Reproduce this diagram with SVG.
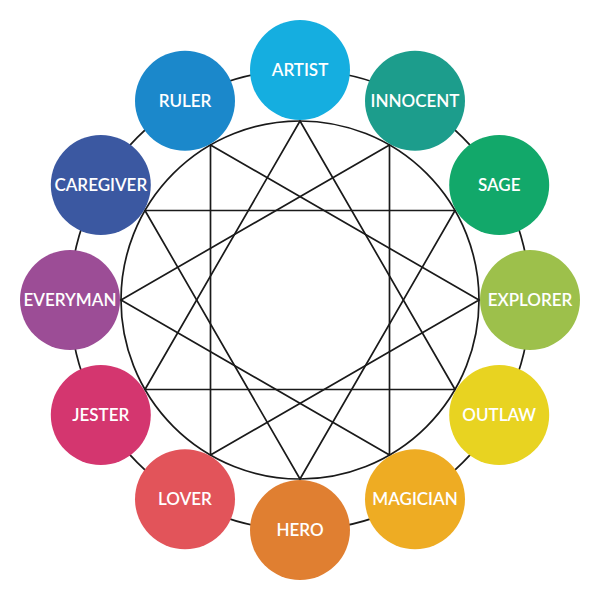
<svg xmlns="http://www.w3.org/2000/svg" width="600" height="600" viewBox="0 0 600 600">
<style>
.ln{fill:none;stroke:#1a1a1a;stroke-width:1.7;stroke-linejoin:miter}
.lbl{fill:#fff;font-family:Lato,"Open Sans","Liberation Sans",sans-serif;font-weight:600;font-size:17px;text-anchor:middle}
</style>
<rect width="600" height="600" fill="#fff"/>
<g id="connectors">
<circle class="ln" cx="300" cy="300" r="230"/>
<circle class="ln" cx="300" cy="300" r="179"/>
<polygon class="ln" points="300,121 455.02,389.5 144.98,389.5"/>
<polygon class="ln" points="389.5,144.98 389.5,455.02 121,300"/>
<polygon class="ln" points="455.02,210.5 300,479 144.98,210.5"/>
<polygon class="ln" points="479,300 210.5,455.02 210.5,144.98"/>
</g>
<g id="artist"><circle cx="300" cy="70" r="50" fill="#15aee0"/><text class="lbl" x="300" y="76">ARTIST</text></g>
<g id="innocent"><circle cx="415" cy="100.8" r="50" fill="#1c9d8c"/><text class="lbl" x="415" y="106.8">INNOCENT</text></g>
<g id="sage"><circle cx="499.2" cy="185" r="50" fill="#12a86a"/><text class="lbl" x="499.2" y="191">SAGE</text></g>
<g id="explorer"><circle cx="530" cy="300" r="50" fill="#9dc04b"/><text class="lbl" x="530" y="306">EXPLORER</text></g>
<g id="outlaw"><circle cx="499.2" cy="415" r="50" fill="#e8d321"/><text class="lbl" x="499.2" y="421">OUTLAW</text></g>
<g id="magician"><circle cx="415" cy="499.2" r="50" fill="#eeac23"/><text class="lbl" x="415" y="505.2">MAGICIAN</text></g>
<g id="hero"><circle cx="300" cy="530" r="50" fill="#e07f31"/><text class="lbl" x="300" y="536">HERO</text></g>
<g id="lover"><circle cx="185" cy="499.2" r="50" fill="#e2545a"/><text class="lbl" x="185" y="505.2">LOVER</text></g>
<g id="jester"><circle cx="100.8" cy="415" r="50" fill="#d4366f"/><text class="lbl" x="100.8" y="421">JESTER</text></g>
<g id="everyman"><circle cx="70" cy="300" r="50" fill="#9c4d96"/><text class="lbl" x="70" y="306">EVERYMAN</text></g>
<g id="caregiver"><circle cx="100.8" cy="185" r="50" fill="#3b58a1"/><text class="lbl" x="100.8" y="191">CAREGIVER</text></g>
<g id="ruler"><circle cx="185" cy="100.8" r="50" fill="#1b88cb"/><text class="lbl" x="185" y="106.8">RULER</text></g>
</svg>
